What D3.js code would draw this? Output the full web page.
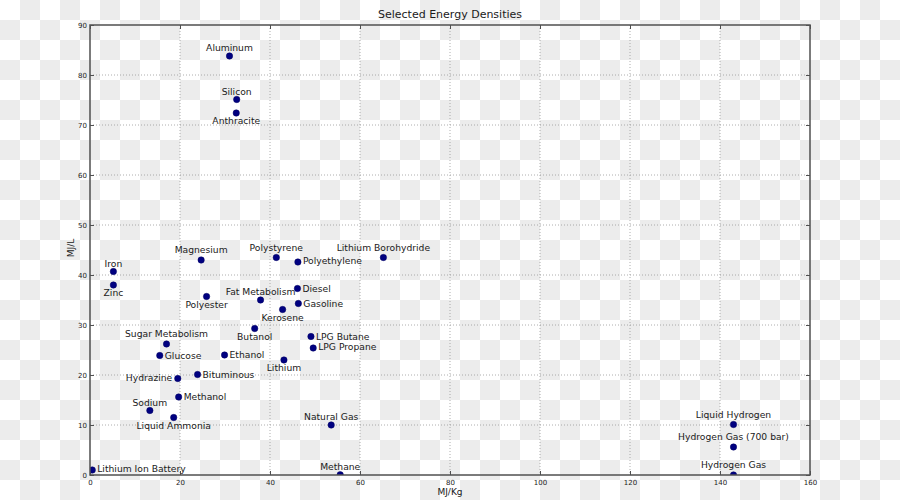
<!DOCTYPE html>
<html>
<head>
<meta charset="utf-8">
<script src="https://cdn.jsdelivr.net/npm/d3@7/dist/d3.min.js"></script>
<style>
  html, body { margin: 0; padding: 0; background: #fff; }
  svg { display: block; font-family: "DejaVu Sans", sans-serif; }
</style>
</head>
<body>
<svg id="chart" width="900" height="500"></svg>
<script>
// ---- data ----
const materials = [
  "Aluminum", "Silicon", "Anthracite", "Magnesium", "Polystyrene", "Polyethylene",
  "Lithium Borohydride", "Iron", "Zinc", "Polyester", "Fat Metabolism", "Diesel",
  "Gasoline", "Kerosene", "Butanol", "Sugar Metabolism", "Glucose", "Ethanol",
  "Lithium", "LPG Butane", "LPG Propane", "Hydrazine", "Bituminous", "Methanol",
  "Sodium", "Liquid Ammonia", "Lithium Ion Battery", "Natural Gas", "Methane",
  "Liquid Hydrogen", "Hydrogen Gas (700 bar)", "Hydrogen Gas"
];
const mjPerKg = [
  31.0, 32.6, 32.5, 24.7, 41.4, 46.2,
  65.2, 5.2, 5.2, 25.9, 37.9, 46.1,
  46.3, 42.8, 36.6, 17.0, 15.5, 29.9,
  43.1, 49.1, 49.6, 19.5, 23.9, 19.7,
  13.3, 18.6, 0.5, 53.6, 55.6,
  143.0, 143.0, 143.0
];
const mjPerL = [
  83.8, 75.1, 72.4, 43.0, 43.5, 42.6,
  43.5, 40.7, 38.0, 35.7, 35.0, 37.3,
  34.3, 33.1, 29.3, 26.2, 23.9, 24.0,
  23.0, 27.7, 25.4, 19.3, 20.1, 15.6,
  12.9, 11.5, 1.0, 10.0, 0.04,
  10.1, 5.6, 0.01
];
// label side relative to its point: a = above, b = below, r = right, l = left
const labelSide = [
  "a", "a", "b", "a", "a", "r",
  "a", "a", "b", "b", "a", "r",
  "r", "b", "b", "a", "r", "r",
  "b", "r", "r", "l", "r", "r",
  "a", "b", "r", "a", "a",
  "a", "a", "a"
];
const xTicks = [0, 20, 40, 60, 80, 100, 120, 140, 160];
const yTicks = [0, 10, 20, 30, 40, 50, 60, 70, 80, 90];
const chartTitle = "Selected Energy Densities";
const xLabel = "MJ/Kg";
const yLabel = "MJ/L";

// ---- layout ----
const W = 900, H = 500;
const L = 90, R = 810, T = 25, B = 475;
const svg = d3.select("#chart");

// checkerboard background
const defs = svg.append("defs");
const pat = defs.append("pattern").attr("id", "checker")
  .attr("width", 40).attr("height", 40).attr("patternUnits", "userSpaceOnUse");
pat.append("rect").attr("width", 40).attr("height", 40).attr("fill", "#ffffff");
pat.append("rect").attr("x", 20).attr("y", 0).attr("width", 20).attr("height", 20).attr("fill", "#ececec");
pat.append("rect").attr("x", 0).attr("y", 20).attr("width", 20).attr("height", 20).attr("fill", "#ececec");
svg.append("rect").attr("width", W).attr("height", H).attr("fill", "url(#checker)");

defs.append("clipPath").attr("id", "plotclip")
  .append("rect").attr("x", L).attr("y", T).attr("width", R - L).attr("height", B - T);

const x = d3.scaleLinear().domain([0, 160]).range([L, R]);
const y = d3.scaleLinear().domain([0, 90]).range([B, T]);

// grid
const grid = svg.append("g");
grid.selectAll("line.gx").data(xTicks.slice(1, -1)).join("line")
  .attr("x1", d => x(d)).attr("x2", d => x(d)).attr("y1", T).attr("y2", B)
  .attr("stroke", "#9a9a9a").attr("stroke-width", 0.8).attr("stroke-dasharray", "1,2");
grid.selectAll("line.gy").data(yTicks.slice(1, -1)).join("line")
  .attr("y1", d => y(d)).attr("y2", d => y(d)).attr("x1", L).attr("x2", R)
  .attr("stroke", "#9a9a9a").attr("stroke-width", 0.8).attr("stroke-dasharray", "1,2");

// axes (ticks inward, labels outside)
const spine = "#505050";
const xAxis = svg.append("g").attr("transform", `translate(0,${B})`)
  .call(d3.axisBottom(x).tickValues(xTicks).tickSize(-4).tickPadding(5).tickFormat(d3.format("d")));
const xAxisTop = svg.append("g").attr("transform", `translate(0,${T})`)
  .call(d3.axisTop(x).tickValues(xTicks).tickSize(-4).tickFormat(""));
const yAxis = svg.append("g").attr("transform", `translate(${L},0)`)
  .call(d3.axisLeft(y).tickValues(yTicks).tickSize(-4).tickPadding(3).tickFormat(d3.format("d")));
const yAxisR = svg.append("g").attr("transform", `translate(${R},0)`)
  .call(d3.axisRight(y).tickValues(yTicks).tickSize(-4).tickFormat(""));
[xAxis, xAxisTop, yAxis, yAxisR].forEach(g => {
  g.select(".domain").remove();
  g.selectAll(".tick line").attr("stroke", spine).attr("stroke-width", 1);
  g.selectAll(".tick text").attr("fill", "#222").attr("font-size", 7)
    .attr("font-family", "DejaVu Sans, sans-serif");
});

// points
const pts = materials.map((m, i) => ({ name: m, kg: mjPerKg[i], l: mjPerL[i], side: labelSide[i] }));
svg.append("g").attr("clip-path", "url(#plotclip)")
  .selectAll("circle").data(pts).join("circle")
  .attr("cx", d => x(d.kg)).attr("cy", d => y(d.l)).attr("r", 3.2)
  .attr("fill", "#000080").attr("stroke", "#000060").attr("stroke-width", 0.5);

// spines
svg.append("rect").attr("x", L).attr("y", T).attr("width", R - L).attr("height", B - T)
  .attr("fill", "none").attr("stroke", spine).attr("stroke-width", 1.5);

// point labels
svg.append("g").selectAll("text").data(pts).join("text")
  .attr("font-size", 9.2).attr("fill", "#1a1a1a")
  .attr("text-anchor", d => d.side === "r" ? "start" : d.side === "l" ? "end" : "middle")
  .attr("x", d => {
    const px = x(d.kg);
    return d.side === "r" ? px + 5 : d.side === "l" ? px - 5.5 : px;
  })
  .attr("y", d => {
    const py = y(d.l);
    const desc = /[gjpqy()]/.test(d.name) ? 1.8 : 0;
    if (d.side === "a") return py - 4.9 - desc;
    if (d.side === "b") return py + 11;
    return py + 3.1 - desc / 2;
  })
  .text(d => d.name);

// title and axis labels
svg.append("text").attr("x", (L + R) / 2).attr("y", 18).attr("text-anchor", "middle")
  .attr("font-size", 11).attr("fill", "#1a1a1a").text(chartTitle);
svg.append("text").attr("x", (L + R) / 2).attr("y", 495).attr("text-anchor", "middle")
  .attr("font-size", 9).attr("fill", "#1a1a1a").text(xLabel);
svg.append("text").attr("transform", "translate(74,248) rotate(-90)").attr("text-anchor", "middle")
  .attr("font-size", 9).attr("fill", "#1a1a1a").text(yLabel);
</script>
</body>
</html>
